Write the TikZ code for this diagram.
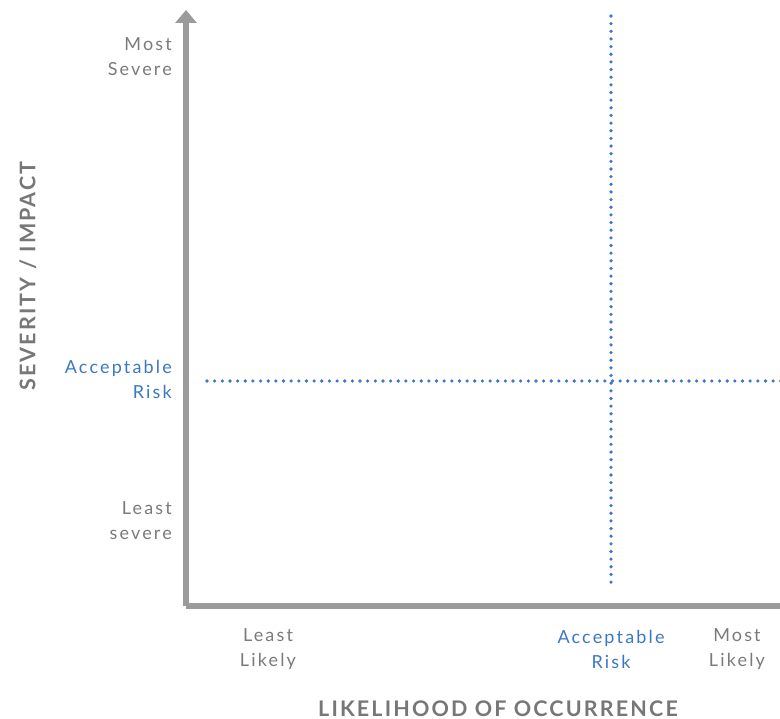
\documentclass[tikz,border=0pt]{standalone}
\usepackage{fontspec}
\setmainfont{Lato}[LetterSpace=12]
\newfontfamily\titlefont{Lato}[LetterSpace=10]
\usetikzlibrary{arrows.meta}
\definecolor{axisgray}{HTML}{9B9B9B}
\definecolor{labelgray}{HTML}{7A7A7A}
\definecolor{titlegray}{HTML}{777777}
\definecolor{riskblue}{HTML}{3A78C3}
\tikzset{
  axis/.style={draw=axisgray, line width=6pt, line join=round,
    -{Triangle[width=21pt,length=13pt]}},
  riskline/.style={draw=riskblue, line width=3.6pt, line cap=round,
    dash pattern=on 0pt off 7.65pt},
  lbl/.style={text=labelgray, font=\fontsize{18}{25}\selectfont, inner sep=0pt},
  riskl/.style={lbl, text=riskblue},
  axtitle/.style={text=titlegray, font=\titlefont\bfseries\fontsize{21.5}{26}\selectfont, inner sep=0pt},
}
\begin{document}
\begin{tikzpicture}[x=1pt,y=-1pt]
\useasboundingbox (0,0) rectangle (780,719);
% axes
\coordinate (top) at (186,10);
\coordinate (origin) at (186,606);
\coordinate (right) at (793,606);
\draw[axis] (origin) -- (top);
\draw[axis] (origin) -- (right);
% acceptable-risk thresholds
\coordinate (vtop) at (611,16);
\coordinate (vbot) at (611,584);
\coordinate (hleft) at (207,381);
\coordinate (hright) at (782,381);
\draw[riskline] (vtop) -- (vbot);
\draw[riskline] (hleft) -- (hright);
% vertical axis labels
\node[lbl, anchor=east, align=right] (mostsev) at (172,57) {Most\\Severe};
\node[riskl, anchor=east, align=right] (accsev) at (172,379) {Acceptable\\Risk};
\node[lbl, anchor=east, align=right] (leastsev) at (172,521) {Least\\severe};
% horizontal axis labels
\node[lbl, align=center] (leastlik) at (268,649) {Least\\Likely};
\node[riskl, align=center] (acclik) at (611,649) {Acceptable\\Risk};
\node[lbl, align=center] (mostlik) at (737,649) {Most\\Likely};
% axis titles
\node[axtitle] (xtitle) at (498,708.5) {LIKELIHOOD OF OCCURRENCE};
\node[axtitle, rotate=90] (ytitle) at (28,276) {SEVERITY / IMPACT};
\end{tikzpicture}
\end{document}
